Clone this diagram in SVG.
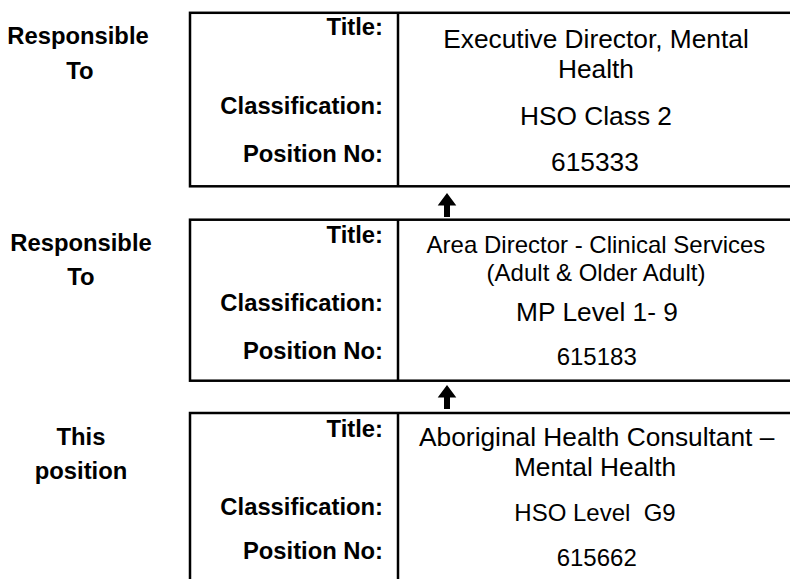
<svg xmlns="http://www.w3.org/2000/svg" width="790" height="579" viewBox="0 0 790 579">
<style>
text{font-family:"Liberation Sans",Arial,sans-serif;fill:#000}
.side{font-weight:bold;font-size:23.8px;text-anchor:middle}
.lbl{font-weight:bold;font-size:23.8px;text-anchor:end}
.big{font-size:26.3px;text-anchor:middle}
.sm{font-size:24px;text-anchor:middle}
.box{fill:#fff;stroke:#000;stroke-width:2.5}
.div{stroke:#000;stroke-width:2.5}
.arr{fill:#000}
</style>
<rect width="790" height="579" fill="#fff"/>
<g id="side1">
<text class="side" x="78" y="44">Responsible</text>
<text class="side" x="80" y="79">To</text>
</g>
<g id="side2">
<text class="side" x="81" y="251">Responsible</text>
<text class="side" x="81" y="285">To</text>
</g>
<g id="side3">
<text class="side" x="81" y="445">This</text>
<text class="side" x="81" y="478.5">position</text>
</g>
<g id="box1">
<rect class="box" x="190" y="12.8" width="640" height="173.5"/>
<line class="div" x1="398" y1="12.8" x2="398" y2="186.3"/>
<text class="lbl" x="383" y="35">Title:</text>
<text class="lbl" x="383" y="113.5">Classification:</text>
<text class="lbl" x="383" y="162">Position No:</text>
<text class="big" x="596" y="47.5">Executive Director, Mental</text>
<text class="big" x="596" y="77.5">Health</text>
<text class="big" x="596" y="124.5">HSO Class 2</text>
<text class="big" x="595" y="171">615333</text>
</g>
<g id="box2">
<rect class="box" x="190" y="219.7" width="640" height="161"/>
<line class="div" x1="398" y1="219.7" x2="398" y2="380.7"/>
<text class="lbl" x="383" y="243">Title:</text>
<text class="lbl" x="383" y="311">Classification:</text>
<text class="lbl" x="383" y="358.5">Position No:</text>
<text class="sm" x="596" y="253">Area Director - Clinical Services</text>
<text class="sm" x="596" y="281">(Adult &amp; Older Adult)</text>
<text class="big" x="597" y="320.5">MP Level 1- 9</text>
<text class="sm" x="596.7" y="364.5">615183</text>
</g>
<g id="box3">
<rect class="box" x="190" y="413" width="640" height="200"/>
<line class="div" x1="398" y1="413" x2="398" y2="600"/>
<text class="lbl" x="383" y="437">Title:</text>
<text class="lbl" x="383" y="515">Classification:</text>
<text class="lbl" x="383" y="559">Position No:</text>
<text class="big" x="596.7" y="446">Aboriginal Health Consultant –</text>
<text class="big" x="595" y="476">Mental Health</text>
<text class="sm" x="595" y="521" xml:space="preserve">HSO Level  G9</text>
<text class="sm" x="596.7" y="566">615662</text>
</g>
<g id="connectors">
<path class="arr" d="M447,193 L456.3,205.5 L450,205.5 L450,217 L444,217 L444,205.5 L437.7,205.5 Z"/>
<path class="arr" d="M447,385 L456.3,397.5 L450,397.5 L450,409 L444,409 L444,397.5 L437.7,397.5 Z"/>
</g>
</svg>
